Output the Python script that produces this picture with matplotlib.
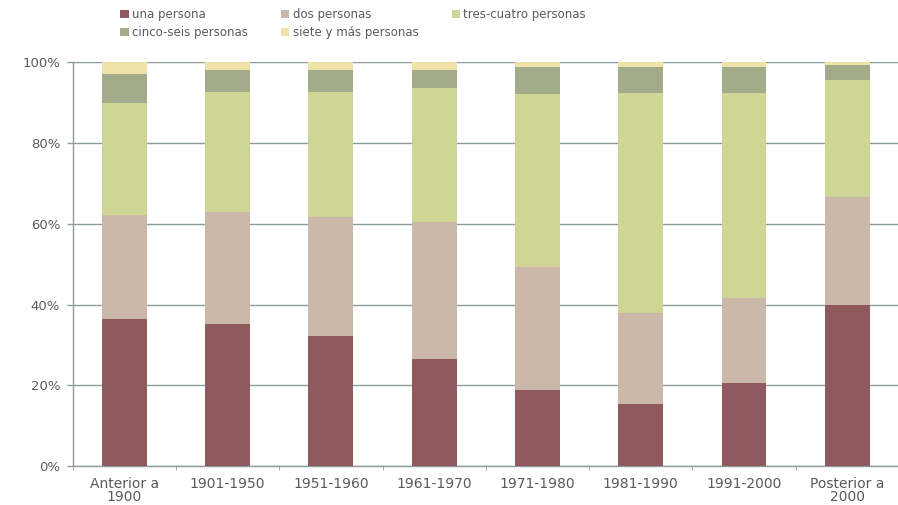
import numpy as np
import matplotlib.pyplot as plt
from matplotlib.ticker import PercentFormatter, FixedLocator

plt.rcParams['font.family'] = ['DejaVu Sans']

# categories (periodo de construcción)
periodos = ['Anterior a\n1900', '1901-1950', '1951-1960', '1961-1970',
            '1971-1980', '1981-1990', '1991-2000', 'Posterior a\n2000']

# share of households by size (%)
una = [36.3, 35.3, 32.3, 26.5, 18.8, 15.3, 20.5, 40.0]
dos = [25.8, 27.7, 29.3, 33.9, 30.4, 22.5, 21.0, 26.7]
tres_cuatro = [27.8, 29.5, 30.9, 33.1, 42.8, 54.6, 50.9, 28.8]
cinco_seis = [7.1, 5.6, 5.6, 4.6, 6.7, 6.3, 6.3, 3.8]
siete_mas = [3.0, 1.9, 1.9, 1.9, 1.3, 1.3, 1.3, 0.7]

series = [una, dos, tres_cuatro, cinco_seis, siete_mas]
nombres = ['una persona', 'dos personas', 'tres-cuatro personas',
           'cinco-seis personas', 'siete y más personas']
colores = ['#8f5a5e', '#cbb8a9', '#cfd595', '#a3ac8a', '#efe3a8']

grid_col = '#8e9c9c'
text_col = '#5a5a5a'

fig = plt.figure(figsize=(8.98, 5.05), dpi=100)
ax = fig.add_axes([0.081, 0.077, 0.92, 0.800])

x = np.arange(len(periodos))
bottom = np.zeros(len(periodos))
handles = []
for vals, nom, col in zip(series, nombres, colores):
    b = ax.bar(x, vals, width=0.435, bottom=bottom, color=col, label=nom,
               zorder=3)
    handles.append(b)
    bottom += np.array(vals)

ax.set_xlim(-0.5, len(periodos) - 0.5)
ax.set_ylim(0, 100)
ax.yaxis.set_major_locator(FixedLocator([0, 20, 40, 60, 80, 100]))
ax.yaxis.set_major_formatter(PercentFormatter(decimals=0))
ax.grid(axis='y', color=grid_col, linewidth=1.0, zorder=0)

ax.set_xticks(x)
ax.set_xticklabels(periodos, fontsize=10, color=text_col, linespacing=0.95)
ax.set_xticks(np.arange(len(periodos) + 1) - 0.5, minor=True)
ax.tick_params(axis='x', which='major', length=0, pad=7.5)
ax.tick_params(axis='x', which='minor', length=3, color=grid_col)
ax.tick_params(axis='y', length=4.5, width=1.0, color=grid_col,
               labelsize=9.5, labelcolor=text_col, pad=4.5)

for s in ['top', 'right']:
    ax.spines[s].set_visible(False)
for s in ['left', 'bottom']:
    ax.spines[s].set_color(grid_col)
    ax.spines[s].set_linewidth(1.0)

# legend laid out row-wise: una, dos, tres / cinco, siete
orden = [0, 3, 1, 4, 2]
fig.legend([handles[i] for i in orden], [nombres[i] for i in orden],
           ncol=3, loc='upper left', bbox_to_anchor=(0.134, 0.984),
           frameon=False, fontsize=8.5, handlelength=0.7, handleheight=0.7,
           handletextpad=0.3, columnspacing=2.8, labelspacing=0.45,
           borderpad=0, borderaxespad=0, labelcolor=text_col)

fig.savefig('out.png', dpi=100)
